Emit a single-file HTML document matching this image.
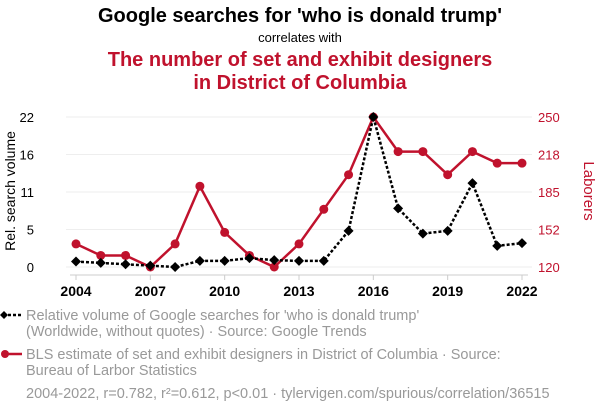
<!DOCTYPE html>
<html><head><meta charset="utf-8"><style>
body{margin:0;background:#fff;font-family:"Liberation Sans",sans-serif;}
svg text{font-family:"Liberation Sans",sans-serif;}
</style></head><body>
<svg id="c" width="600" height="414" xmlns="http://www.w3.org/2000/svg">
<text x="300" y="22" text-anchor="middle" font-size="20" font-weight="bold" fill="#000">Google searches for 'who is donald trump'</text>
<text x="300" y="42" text-anchor="middle" font-size="13" fill="#000">correlates with</text>
<text x="300" y="66" text-anchor="middle" font-size="20" font-weight="bold" fill="#c0122d">The number of set and exhibit designers</text>
<text x="300" y="89" text-anchor="middle" font-size="20" font-weight="bold" fill="#c0122d">in District of Columbia</text>
<g id="grid"></g><g id="axes"></g><g id="marks"></g>
<text transform="translate(15,191) rotate(-90)" text-anchor="middle" font-size="14" fill="#000">Rel. search volume</text>
<text transform="translate(584,191) rotate(90)" text-anchor="middle" font-size="15" fill="#c0122d">Laborers</text>
<g>
<line x1="3" y1="315" x2="22" y2="315" stroke="#000" stroke-width="2.5" stroke-dasharray="3,2"/>
<path d="M4,311 L8,315 L4,319 L0,315Z" fill="#000"/>
<text x="26" y="320" font-size="14.5" fill="#999">Relative volume of Google searches for 'who is donald trump'</text>
<text x="26" y="336" font-size="14.5" fill="#999">(Worldwide, without quotes) · Source: Google Trends</text>
</g>
<g>
<line x1="3" y1="354" x2="22" y2="354" stroke="#c0122d" stroke-width="2.5"/>
<circle cx="5" cy="354" r="4" fill="#c0122d"/>
<text x="26" y="359" font-size="14.5" fill="#999">BLS estimate of set and exhibit designers in District of Columbia · Source:</text>
<text x="26" y="375" font-size="14.5" fill="#999">Bureau of Larbor Statistics</text>
</g>
<text x="26" y="398" font-size="14.5" fill="#999">2004-2022, r=0.782, r²=0.612, p&lt;0.01 · tylervigen.com/spurious/correlation/36515</text>
</svg>
<script>
const years=[2004,2005,2006,2007,2008,2009,2010,2011,2012,2013,2014,2015,2016,2017,2018,2019,2020,2021,2022];
const searches=[0.8,0.6,0.4,0.2,0,0.9,0.9,1.3,1.0,0.9,0.9,5.3,22,8.6,4.9,5.3,12.3,3.1,3.5];
const laborers=[140,130,130,120,140,190,150,130,120,140,170,200,250,220,220,200,220,210,210];
const leftTicks=[0,5.5,11,16.5,22];
const leftLabels=["0","5","11","16","22"];
const rightTicks=[120,152.5,185,217.5,250];
const rightLabels=["120","152","185","218","250"];
const xTicks=[2004,2007,2010,2013,2016,2019,2022];
const NS="http://www.w3.org/2000/svg";
const X=y=>76+(y-2004)*(522-76)/18;
const YL=v=>267-v*150/22;
const YR=v=>267-(v-120)*150/130;
function mk(p,t,a){const e=document.createElementNS(NS,t);for(const k in a)e.setAttribute(k,a[k]);document.getElementById(p).appendChild(e);return e;}
leftTicks.forEach((v,i)=>{
 const g=mk('grid','line',{x1:66,x2:532,y1:YL(v),y2:YL(v),stroke:'#eee','stroke-width':1});
 
 
 const t=mk('axes','text',{x:34,y:YL(v)+5,'text-anchor':'end','font-size':13,fill:'#000'});t.textContent=leftLabels[i];
 
 
});
rightTicks.forEach((v,i)=>{
 const t=mk('axes','text',{x:538,y:YR(v)+5,'font-size':13,fill:'#c0122d'});t.textContent=rightLabels[i];
 
 
});
const ax=mk('axes','line',{x1:70,x2:528,y1:275,y2:275,stroke:'#ccc','stroke-width':1});


xTicks.forEach(y=>{
 mk('axes','line',{x1:X(y),x2:X(y),y1:275,y2:280,stroke:'#ccc'});
 const t=mk('axes','text',{x:X(y),y:296,'text-anchor':'middle','font-size':14,'font-weight':'bold',fill:'#000'});t.textContent=y;
 
 
});
const rl=mk('marks','polyline',{points:years.map((y,i)=>X(y)+','+YR(laborers[i])).join(' '),fill:'none',stroke:'#c0122d','stroke-width':2.5});


years.forEach((y,i)=>{const c=mk('marks','circle',{cx:X(y),cy:YR(laborers[i]),r:4.5,fill:'#c0122d'});
 
 });
const bl=mk('marks','polyline',{points:years.map((y,i)=>X(y)+','+YL(searches[i])).join(' '),fill:'none',stroke:'#000','stroke-width':2.5,'stroke-dasharray':'3,2'});


years.forEach((y,i)=>{const x=X(y),yy=YL(searches[i]);
 const p=mk('marks','path',{d:`M${x},${yy-5}L${x+5},${yy}L${x},${yy+5}L${x-5},${yy}Z`,fill:'#000'});
 
 });
</script>
</body></html>
